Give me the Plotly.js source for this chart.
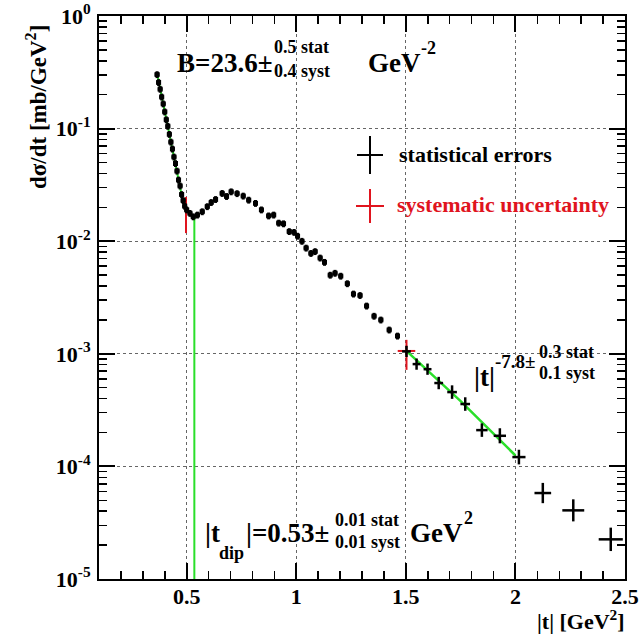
<!DOCTYPE html>
<html><head><meta charset="utf-8">
<script src="https://cdn.plot.ly/plotly-3.0.1.min.js"></script>
<style>html,body{margin:0;padding:0;background:#fff}</style>
</head><body><div id="chart" style="width:642px;height:637px"></div>
<script>
// ---- data ----
const tStat = [0.365,0.372,0.379,0.386,0.393,0.400,0.407,0.414,0.421,0.428,0.435,0.442,0.449,0.456,0.463,0.470,0.477,0.484,
  0.491,0.500,0.515,0.530,0.549,0.571,0.594,0.612,0.632,0.662,0.682,0.703,0.730,0.758,0.783,0.814,0.841,0.874,0.897,0.920,0.942,0.968,0.990,
  1.006,1.026,1.045,1.067,1.086,1.109,1.129,1.155,1.177,1.203,1.233,1.261,1.291,1.321,1.355,1.386,1.424,1.462];
const yStat = [0.302,0.257,0.224,0.191,0.166,0.141,0.120,0.105,0.089,0.076,0.066,0.056,0.049,0.042,0.035,0.031,0.026,0.023,
  0.0205,0.0190,0.0177,0.0165,0.0171,0.0183,0.0203,0.0221,0.0235,0.0266,0.0250,0.0275,0.0265,0.0252,0.0232,0.0217,0.0190,0.0168,0.0171,0.0145,0.0143,0.0122,0.0120,
  0.0111,0.0100,0.0087,0.0078,0.0081,0.0071,0.0065,0.0050,0.0052,0.0049,0.0042,0.0034,0.0033,0.00266,0.00216,0.00200,0.00163,0.00144];
const tCross = [1.503,1.549,1.599,1.650,1.711,1.771,1.847,1.929,2.016,2.125,2.264,2.435];
const yCross = [0.00105,0.00081,0.00073,0.00055,0.000457,0.000358,0.000210,0.000187,0.000121,0.000058,0.0000407,0.0000225];
const xErrCross = [0.020,0.018,0.018,0.020,0.022,0.022,0.026,0.028,0.030,0.038,0.050,0.055];
const dexErrCross = [0.05,0.05,0.05,0.055,0.06,0.06,0.06,0.067,0.065,0.09,0.098,0.104];
const tSyst = [0.497, 1.503];
const ySyst = [0.0189, 0.00106];
const systUp = [0.0058, 0.00027];
const systDown = [0.0071, 0.00034];
const systX = [0.004, 0.04];
const tExpFit = [0.365, 0.483];
const yExpFit = [0.31, 0.0225];
const tDipLine = [0.535, 0.535];
const yDipLine = [0.0165, 0.00001];
const tPowFit = [1.505, 1.75, 2.0];
const yPowFit = [0.00105, 0.00038, 0.000125];
const xTickVals = [0.5, 1, 1.5, 2, 2.5];
const xTickText = ['0.5', '1', '1.5', '2', '2.5'];
const yTickVals = [1e-5, 1e-4, 1e-3, 1e-2, 1e-1, 1];
const yTickText = ['10<sup>-5</sup>','10<sup>-4</sup>','10<sup>-3</sup>','10<sup>-2</sup>','10<sup>-1</sup>','10<sup>0</sup>'];

// ---- layout helpers ----
const L = 99, R = 625, T = 16, B = 579;
const px = x => (x - L) / (R - L);
const py = y => (B - y) / (B - T);
const FAM = 'Liberation Serif, Times New Roman, serif';
const GREEN = '#2adf2a', RED = '#e0141e';

const errUp = yCross.map((v, i) => v * (Math.pow(10, dexErrCross[i]) - 1));
const errDn = yCross.map((v, i) => v * (1 - Math.pow(10, -dexErrCross[i])));

const traces = [
  {x: tExpFit, y: yExpFit, mode: 'lines', line: {color: GREEN, width: 2}, hoverinfo: 'skip'},
  {x: tDipLine, y: yDipLine, mode: 'lines', line: {color: GREEN, width: 2}, hoverinfo: 'skip'},
  {x: tPowFit, y: yPowFit, mode: 'lines', line: {color: GREEN, width: 2.5}, hoverinfo: 'skip'},
  {x: tSyst, y: ySyst, mode: 'markers', marker: {size: 1, color: RED, opacity: 0},
   error_y: {type: 'data', array: systUp, arrayminus: systDown, symmetric: false, color: RED, thickness: 2, width: 0},
   error_x: {type: 'data', array: systX, color: RED, thickness: 2, width: 0}},
  {x: tStat, y: yStat, mode: 'markers', marker: {symbol: 'square', size: 5, color: '#000'},
   error_y: {type: 'percent', value: 7, color: '#000', thickness: 3, width: 0},
   error_x: {type: 'constant', value: 0.011, color: '#000', thickness: 3, width: 0}},
  {x: tCross, y: yCross, mode: 'markers', marker: {size: 2, color: '#000'},
   error_y: {type: 'data', array: errUp, arrayminus: errDn, symmetric: false, color: '#000', thickness: 2.5, width: 0},
   error_x: {type: 'data', array: xErrCross, color: '#000', thickness: 2.5, width: 0}}
];

function ann(text, x, y, size, opts) {
  return Object.assign({text: text, xref: 'paper', yref: 'paper', x: px(x), y: py(y),
    xanchor: 'left', yanchor: 'middle', showarrow: false,
    font: {family: FAM, size: size, color: '#000', weight: 700}}, opts || {});
}

const annotations = [
  ann('B=23.6±', 175, 63, 27),
  ann('0.5 stat', 272, 47, 18),
  ann('0.4 syst', 272, 71, 18),
  ann('GeV', 366, 63, 27),
  ann('-2', 419, 48, 18),
  ann('statistical errors', 397, 155, 22),
  ann('systematic uncertainty', 395, 205, 22, {font: {family: FAM, size: 22, color: RED, weight: 700}}),
  ann('|t|', 472, 377, 27),
  ann('-7.8±', 493, 361, 19),
  ann('0.3 stat', 537, 352, 18),
  ann('0.1 syst', 537, 373, 18),
  ann('|t', 203, 533, 27),
  ann('dip', 217, 553, 18),
  ann('|=0.53±', 244, 533, 27),
  ann('0.01 stat', 333, 520, 18),
  ann('0.01 syst', 333, 542, 18),
  ann('GeV', 408, 533, 27),
  ann('2', 462, 518, 18),
  ann('|t| [GeV<sup>2</sup>]', 627, 620, 22, {xanchor: 'right'}),
  ann('dσ/dt [mb/GeV<sup>2</sup>]', 36, 107, 23, {xanchor: 'center', textangle: -90})
];

function box(x0, y0, x1, y1) {
  return {type: 'rect', xref: 'paper', yref: 'paper', x0: px(x0), x1: px(x1), y0: py(y1), y1: py(y0),
    fillcolor: '#fff', line: {width: 0}, layer: 'between'};
}
function seg(x0, y0, x1, y1, c) {
  return {type: 'line', xref: 'paper', yref: 'paper', x0: px(x0), x1: px(x1), y0: py(y0), y1: py(y1),
    line: {color: c, width: 2}};
}
const shapes = [
  box(140, 17, 440, 87),
  box(345, 134, 622, 230),
  box(466, 338, 622, 398),
  box(198, 498, 500, 576),
  seg(357, 155, 383, 155, '#000'), seg(370, 136, 370, 174, '#000'),
  seg(356, 206, 384, 206, RED), seg(370, 189, 370, 223, RED)
];

const axisFont = {family: FAM, size: 22, color: '#000', weight: 700};
const layout = {
  width: 642, height: 637,
  margin: {l: L, r: 642 - R, t: T, b: 637 - B, pad: 0},
  paper_bgcolor: '#fff', plot_bgcolor: '#fff',
  showlegend: false,
  xaxis: {range: [0.1, 2.5], tickmode: 'array', tickvals: xTickVals, ticktext: xTickText,
    ticks: 'inside', ticklen: 16, tickwidth: 2, tickcolor: '#000', mirror: 'ticks',
    showline: true, linecolor: '#000', linewidth: 2, zeroline: false,
    showgrid: true, gridcolor: '#666', griddash: 'dot', gridwidth: 1,
    minor: {dtick: 0.1, tick0: 0, ticks: 'inside', ticklen: 8, tickwidth: 1.5, tickcolor: '#000', showgrid: false},
    tickfont: axisFont, ticklabelstandoff: -3},
  yaxis: {type: 'log', range: [-5, 0], tickmode: 'array', tickvals: yTickVals, ticktext: yTickText,
    ticks: 'inside', ticklen: 16, tickwidth: 2, tickcolor: '#000', mirror: 'ticks',
    showline: true, linecolor: '#000', linewidth: 2, zeroline: false,
    showgrid: true, gridcolor: '#666', griddash: 'dot', gridwidth: 1,
    minor: {dtick: 'D1', ticks: 'inside', ticklen: 8, tickwidth: 1.5, tickcolor: '#000', showgrid: false},
    tickfont: axisFont, ticklabelstandoff: 2},
  annotations: annotations,
  shapes: shapes
};
Plotly.newPlot('chart', traces, layout, {displayModeBar: false, staticPlot: true});
</script></body></html>
